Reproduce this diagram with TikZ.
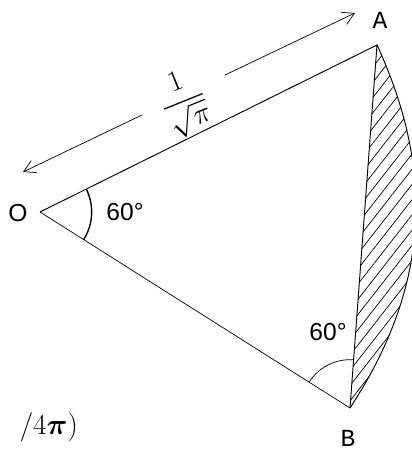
\documentclass[tikz,border=0pt]{standalone}
\usepackage{amsmath,amssymb}
\usepackage{fontspec}
\setmainfont{Liberation Sans}
\setmonofont{Liberation Mono}
\usetikzlibrary{positioning,arrows.meta,angles,patterns.meta}

\begin{document}
\begin{tikzpicture}[
    x=0.03cm, y=0.03cm,
    vertex/.style={font=\ttfamily\fontsize{21}{24}\selectfont},
    angletext/.style={font=\fontsize{21}{24}\selectfont},
    dimline/.style={-{Straight Barb[length=3.5mm,width=4mm]}, semithick},
    hatch/.style={pattern={Lines[angle=52,distance=8pt,line width=0.6pt]}}
]
    \useasboundingbox (0,0) rectangle (411,453);

    % Corners
    \coordinate (o) at (40,241);
    \coordinate (a) at (377,408);
    \coordinate (b) at (350,45);

    % Shaded segment
    \fill[hatch] (a) -- (b) to[bend right=29] (a);
    \draw[thick] (b) to[bend right=29] (a);

    % Triangle
    \draw[thick] (o) -- (a) -- (b);
    \draw[semithick] (o) -- (b);

    % Angles
    \pic[draw, very thick, angle radius=1.55cm] {angle=b--o--a};
    \pic[draw, semithick, angle radius=1.45cm] {angle=a--b--o};

    % Labels
    \node[angletext] (lo) at (18,240) {O};
    \node[vertex] (la) at (380,433) {A};
    \node[vertex] (lb) at (348,15) {B};
    \node[angletext] (ango) at (125,241) {60°};
    \node[angletext] (angb) at (328,121) {60°};

    % Length of OA
    \coordinate (dl) at (23,281);
    \coordinate (gl) at (142,338);
    \coordinate (gr) at (225,378);
    \coordinate (dr) at (355,440);
    \node[rotate=22, inner sep=0pt, font=\fontsize{27}{30}\selectfont] (len) at (184,350) {$\dfrac{1}{\sqrt{\pi}}$};
    \draw[dimline] (gl) -- (dl);
    \draw[dimline] (gr) -- (dr);

    % Cut-off formula
    \node[anchor=east, font=\fontsize{30}{34}\selectfont] (tail) at (82,26) {$/4\boldsymbol{\pi})$};
\end{tikzpicture}
\end{document}
